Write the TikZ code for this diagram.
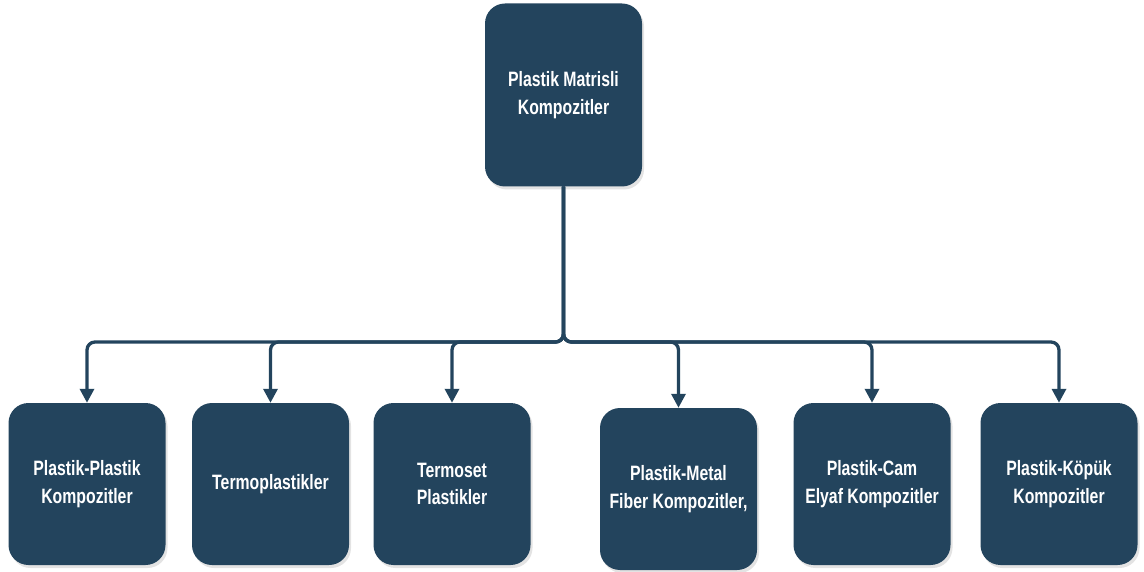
\documentclass[tikz,border=0pt]{standalone}
\usepackage{fontspec}
\newfontfamily\boxfont{Liberation Sans}[FakeStretch=0.76]
\usetikzlibrary{arrows.meta,shadows}
\definecolor{boxblue}{HTML}{23445D}
\begin{document}
\begin{tikzpicture}[x=1pt,y=-1pt,
  box/.style={rectangle, rounded corners=20pt, fill=boxblue, text=white,
    align=center, inner sep=4pt,
    font=\boxfont\bfseries\fontsize{20.8}{27.7}\selectfont,
    drop shadow={opacity=0.22, shadow xshift=2pt, shadow yshift=-3pt}},
  topbox/.style={box, minimum width=157pt, minimum height=183pt},
  leaf/.style={box, minimum width=157pt, minimum height=162pt},
  edge/.style={draw=boxblue, line width=3.3pt, rounded corners=8pt,
    -{Triangle[length=14pt,width=14pt]}}]
  \useasboundingbox (0,0) rectangle (1144,572);

  % root
  \node[topbox] (root) at (563.5,95) {Plastik Matrisli\\Kompozitler};

  % children
  \node[leaf] (c1) at (87,484)    {Plastik-Plastik\\Kompozitler};
  \node[leaf] (c2) at (270.5,484) {Termoplastikler};
  \node[leaf] (c3) at (452,484)   {Termoset\\Plastikler};
  \node[leaf] (c4) at (678.5,489) {Plastik-Metal\\Fiber Kompozitler,};
  \node[leaf] (c5) at (872,484)   {Plastik-Cam\\Elyaf Kompozitler};
  \node[leaf] (c6) at (1059,484)  {Plastik-Köpük\\Kompozitler};

  % distribution bus level
  \coordinate (bus) at (0,342);

  \foreach \c in {c1,c2,c3,c4,c5,c6}
    \draw[edge] (root.south) -- (root.south |- bus) -| (\c.north);
\end{tikzpicture}
\end{document}
